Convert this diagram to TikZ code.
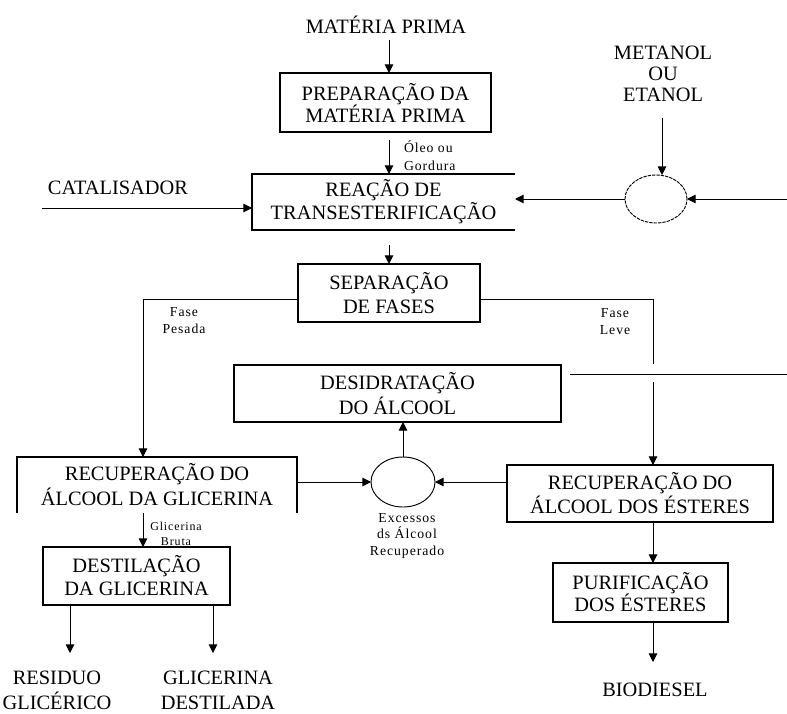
\documentclass[tikz,border=0pt]{standalone}
\usepackage{fontspec}
\setmainfont{Liberation Serif}
\newfontfamily\smallfont[LetterSpace=7]{Liberation Serif}
\usetikzlibrary{arrows.meta,calc,shapes.geometric}
\begin{document}
\begin{tikzpicture}[x=0.75pt,y=-0.75pt,
  every node/.style={inner sep=0pt, outer sep=0pt},
  box/.style={draw, line width=0.8pt, align=center},
  big/.style={align=center, font=\fontsize{15.3}{18}\selectfont},
  sm/.style={align=center, font=\smallfont\fontsize{10.3}{12.4}\selectfont},
  arr/.style={line width=0.7pt, -{Triangle[length=6.5pt,width=6.5pt]}},
  ln/.style={line width=0.7pt},
  circ/.style={ellipse, draw, line width=0.7pt}
]
\useasboundingbox (0,0) rectangle (787,713);

% boxes
\node[box, big, minimum width=158.25pt, minimum height=44.25pt, font=\fontsize{15.3}{16.5}\selectfont] (prep) at (385.5,102.5) {PREPARAÇÃO DA\\MATÉRIA PRIMA};
\node[big, minimum width=197.25pt, minimum height=42pt, font=\fontsize{15.3}{15}\selectfont] (reac) at (383.5,202) {REAÇÃO DE\\TRANSESTERIFICAÇÃO};
\draw[line width=0.8pt] (reac.north east) -- (reac.north west) -- (reac.south west) -- (reac.south east);
\node[box, big, minimum width=136.5pt, minimum height=43.5pt] (sep) at (389,293) {SEPARAÇÃO\\DE FASES};
\node[box, big, minimum width=245.25pt, minimum height=42.75pt, font=\fontsize{15.3}{18.75}\selectfont] (desid) at (397.5,393.5) {DESIDRATAÇÃO\\DO ÁLCOOL};
\node[big, minimum width=210pt, minimum height=42pt, font=\fontsize{15.3}{18.75}\selectfont] (recL) at (157,485) {RECUPERAÇÃO DO\\ÁLCOOL DA GLICERINA};
\draw[line width=0.8pt] (recL.south west) -- (recL.north west) -- (recL.north east) -- (recL.south east);
\node[box, big, minimum width=199.5pt, minimum height=42.75pt] (recR) at (640,493.5) {RECUPERAÇÃO DO\\ÁLCOOL DOS ÉSTERES};
\node[box, big, minimum width=140.25pt, minimum height=43.5pt, font=\fontsize{15.3}{17.25}\selectfont] (dest) at (136.5,576) {DESTILAÇÃO\\DA GLICERINA};
\node[box, big, minimum width=131.25pt, minimum height=44.25pt, font=\fontsize{15.3}{16.5}\selectfont] (purif) at (640.5,592.5) {PURIFICAÇÃO\\DOS ÉSTERES};

% circles
\node[circ, dash pattern=on 2.5pt off 0.8pt, minimum width=46.5pt, minimum height=36pt] (c1) at (656,199) {};
\node[circ, minimum width=48pt, minimum height=37.5pt] (c2) at (403,482) {};

% free texts
\node[big] (mp) at (386,25) {MATÉRIA PRIMA};
\node[big] (cat) at (118,188) {CATALISADOR};
\node[big, font=\fontsize{15.3}{15.75}\selectfont] (met) at (663,74) {METANOL\\OU\hspace*{16pt}\\ETANOL};
\node[big, font=\fontsize{15.3}{18.75}\selectfont] (res) at (57,690) {RESIDUO\\GLICÉRICO};
\node[big, font=\fontsize{15.3}{18.75}\selectfont] (glid) at (218,690) {GLICERINA\\DESTILADA};
\node[big] (bio) at (655,690) {BIODIESEL};

% small labels
\node[sm, anchor=west, align=left, font=\smallfont\fontsize{10.3}{13.5}\selectfont] (oleo) at (404,156) {Óleo ou\\Gordura};
\node[sm, font=\smallfont\fontsize{10.3}{12.75}\selectfont] (fp) at (184,320.5) {Fase\\Pesada};
\node[sm, font=\smallfont\fontsize{10.3}{12.75}\selectfont] (fl) at (615,321.5) {Fase\\Leve};
\node[sm, font=\smallfont\fontsize{9}{11}\selectfont] (gb) at (176,534) {Glicerina\\Bruta};
\node[sm] (exc) at (407,535.5) {Excessos\\ds Álcool\\Recuperado};

% helper coordinates
\coordinate (colA) at (389,0);
\coordinate (colL) at (143,0);
\coordinate (colR) at (653,0);
\coordinate (mpA) at (389,40);
\coordinate (metA) at (662,118);
\coordinate (catA) at (42,208);
\coordinate (rin) at (787,199);
\coordinate (gapTop) at (653,364);
\coordinate (gapBot) at (653,382);
\coordinate (hlA) at (570,374);
\coordinate (hlB) at (787,374);
\coordinate (o1) at (70,653);
\coordinate (o2) at (213,653);
\coordinate (o3) at (653,662);

% connectors
\draw[arr] (mpA) -- (mpA |- prep.north);
\draw[arr, shorten <=6pt] (colA |- prep.south) -- (colA |- reac.north);
\draw[arr, shorten <=11.25pt] (colA |- reac.south) -- (colA |- sep.north);
\draw[arr] (catA) -- (catA -| reac.west);
\draw[arr] (metA) -- (metA |- c1.north);
\draw[arr] (c1.west) -- (c1.west -| reac.east);
\draw[arr] (rin) -- (c1.east);
\draw[arr] ([yshift=-4.5pt]sep.west) -| (colL |- recL.north);
\draw[ln] ([yshift=-4.5pt]sep.east) -| (gapTop);
\draw[arr] (gapBot) -- (colR |- recR.north);
\draw[ln] (hlA) -- (hlB);
\draw[arr] (c2.west -| recL.east) -- (c2.west);
\draw[arr] (c2.east -| recR.west) -- (c2.east);
\draw[arr] (c2.north) -- (c2.north |- desid.south);
\draw[arr] (colL |- recL.south) -- (colL |- dest.north);
\draw[arr] (o1 |- dest.south) -- (o1);
\draw[arr] (o2 |- dest.south) -- (o2);
\draw[arr] (colR |- recR.south) -- (colR |- purif.north);
\draw[arr] (o3 |- purif.south) -- (o3);
\end{tikzpicture}
\end{document}
